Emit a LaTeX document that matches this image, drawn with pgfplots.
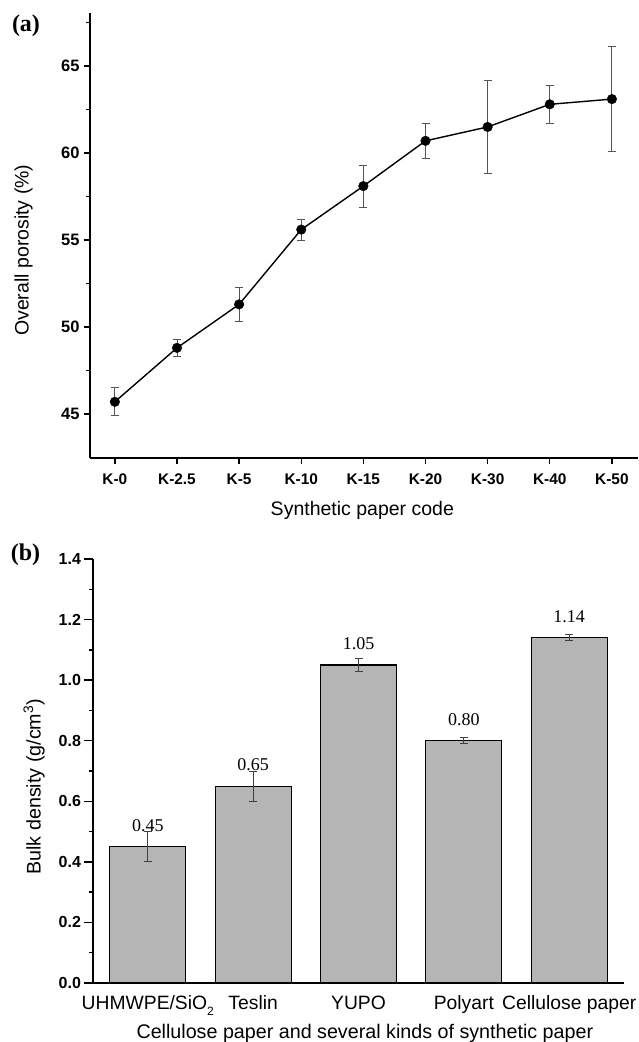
\documentclass[border=0pt]{standalone}
\usepackage{fontspec}
\setmainfont{Liberation Sans}
\newfontfamily\seriffont{Liberation Serif}
\usepackage{pgfplots}
\usepackage{pgfplotstable}
\pgfplotsset{compat=1.18}

\pgfplotstableread{
x y e
0 45.7 0.8
1 48.8 0.5
2 51.3 1.0
3 55.6 0.6
4 58.1 1.2
5 60.7 1.0
6 61.5 2.7
7 62.8 1.1
8 63.1 3.0
}\porosity

\pgfplotstableread{
x y e
0 0.45 0.05
1 0.65 0.05
2 1.05 0.02
3 0.80 0.01
4 1.14 0.01
}\density

\definecolor{barfill}{RGB}{181,181,181}
\definecolor{errgray}{RGB}{85,85,85}

\begin{document}
\begin{tikzpicture}
\path[use as bounding box] (0pt,0pt) rectangle (639pt,1042pt);

\begin{axis}[
  at={(90pt,584pt)}, anchor=south west,
  scale only axis, width=548pt, height=445pt,
  xmin=-0.4, xmax=8.42, ymin=42.47, ymax=68.05,
  axis x line=bottom, axis y line=left,
  axis line style={-, line width=1.6pt},
  tick align=outside,
  major tick length=6pt, minor tick length=3.5pt,
  tick style={line width=1.4pt, black},
  xtick={0,...,8},
  xticklabels={K-0,K-2.5,K-5,K-10,K-15,K-20,K-30,K-40,K-50},
  ytick={45,50,55,60,65},
  minor ytick={47.5,52.5,57.5,62.5,67.5},
  /pgf/number format/assume math mode=true,
  xticklabel style={font=\bfseries\fontsize{15.4}{16}\selectfont, anchor=base, yshift=-21pt},
  yticklabel style={font=\bfseries\fontsize{16.5}{17}\selectfont, xshift=-1pt},
  xlabel={Synthetic paper code},
  ylabel={Overall porosity (\%)},
  label style={font=\fontsize{19.5}{21}\selectfont},
  xlabel style={at={(axis description cs:0.497,-0.130)}, anchor=base},
  ylabel style={at={(axis description cs:-0.121,0.467)}, anchor=center},
  clip=false,
]
\addplot[black, line width=1.4pt, mark=none,
  error bars/.cd, y dir=both, y explicit,
  error bar style={line width=0.9pt, errgray},
  error mark options={rotate=90, mark size=4pt, line width=0.9pt, errgray}]
  table[x=x, y=y, y error=e]{\porosity};
\addplot[only marks, mark=*, mark size=4.8pt, black] table[x=x, y=y]{\porosity};
\end{axis}

\begin{axis}[
  at={(93pt,59pt)}, anchor=south west,
  scale only axis, width=531pt, height=424pt,
  xmin=-0.52, xmax=4.52, ymin=0, ymax=1.4,
  axis x line=bottom, axis y line=left,
  axis line style={-, line width=1.6pt},
  tick align=outside,
  major tick length=8.5pt, minor tick length=4pt,
  tick style={line width=1.4pt, black},
  x tick style={draw=none},
  xtick={0,...,4},
  xticklabels={UHMWPE/SiO\raisebox{-5pt}{\fontsize{12}{12}\selectfont 2},Teslin,YUPO,Polyart,Cellulose paper},
  ytick={0,0.2,0.4,0.6,0.8,1.0,1.2,1.4},
  minor ytick={0.1,0.3,0.5,0.7,0.9,1.1,1.3},
  /pgf/number format/assume math mode=true,
  yticklabel style={font=\bfseries\fontsize{16}{17}\selectfont, /pgf/number format/.cd, fixed, fixed zerofill, precision=1},
  xticklabel style={font=\fontsize{19.3}{20}\selectfont, anchor=base, yshift=-18.5pt},
  xlabel={Cellulose paper and several kinds of synthetic paper},
  ylabel={Bulk density (g/cm\textsuperscript{3})},
  label style={font=\fontsize{19.7}{21}\selectfont},
  xlabel style={at={(axis description cs:0.512,-0.132)}, anchor=base},
  ylabel style={at={(axis description cs:-0.111,0.463)}, anchor=center},
  clip=false,
]
\addplot[ybar, bar width=76pt, fill=barfill, draw=black, line width=1.2pt,
  nodes near coords={\pgfmathprintnumber[fixed, fixed zerofill, precision=2]{\pgfplotspointmeta}},
  every node near coord/.append style={font=\seriffont\fontsize{18}{18}\selectfont, anchor=base, yshift=15.5pt, inner sep=0pt, black},
  error bars/.cd, y dir=both, y explicit,
  error bar style={line width=0.9pt, black!75},
  error mark options={rotate=90, mark size=4pt, line width=0.9pt, black!75}]
  table[x=x, y=y, y error=e]{\density};
\end{axis}

\node[font=\seriffont\bfseries\fontsize{24}{24}\selectfont] at (26pt,1016pt) {(a)};
\node[font=\seriffont\bfseries\fontsize{24}{24}\selectfont] at (25.5pt,487pt) {(b)};
\end{tikzpicture}
\end{document}
